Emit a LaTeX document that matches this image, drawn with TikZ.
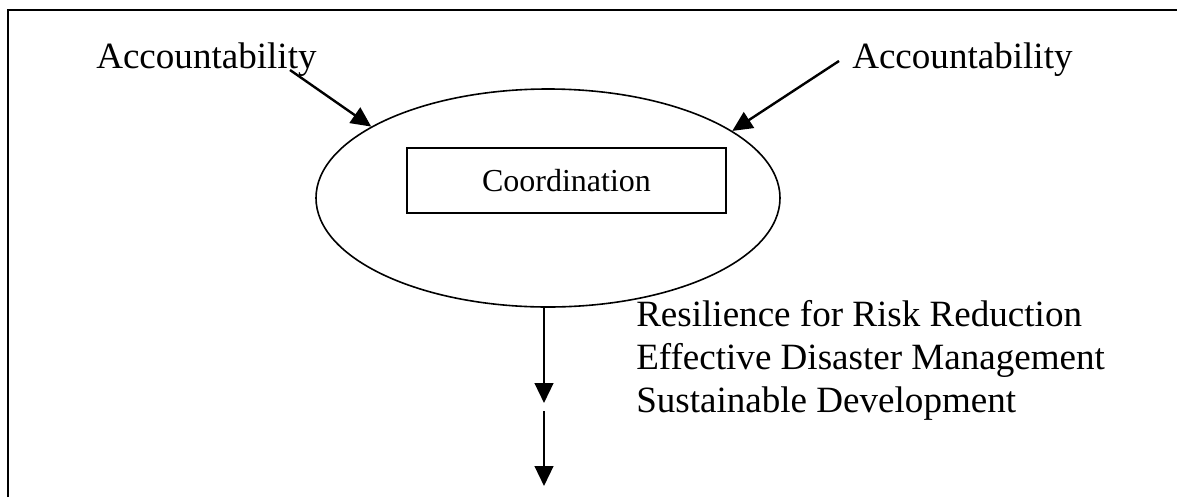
\documentclass[tikz,border=0pt]{standalone}
\usepackage{fontspec}
\setmainfont{Liberation Serif}
\usetikzlibrary{arrows.meta,shapes.geometric}
\tikzset{
  bigtext/.style={font=\fontsize{27.8pt}{32.25pt}\selectfont, inner sep=0pt, anchor=base west},
  arr/.style={line width=1.8pt, -{Triangle[length=15pt,width=14pt]}},
  shapeline/.style={draw, line width=1.2pt},
}
\begin{document}
\begin{tikzpicture}[x=0.75pt,y=-0.75pt]
\useasboundingbox (0,0) rectangle (1177,497);
% frame
\draw[line width=2pt] (8,497) -- (8,10) -- (1177,10);
% ellipse and box
\node[shapeline, ellipse, inner sep=0pt, minimum width=348pt, minimum height=163.5pt] (ell) at (548,198) {};
\node[shapeline, rectangle, inner sep=0pt, minimum width=239.25pt, minimum height=48.75pt,
      font=\fontsize{24pt}{28pt}\selectfont] (box) at (566.5,180.5) {Coordination};
% labels
\node[bigtext] (accL) at (96,68) {Accountability};
\node[bigtext] (accR) at (852,68) {Accountability};
\node[bigtext] (r1) at (636,326) {Resilience for Risk Reduction};
\node[bigtext] (r2) at (636,369) {Effective Disaster Management};
\node[bigtext] (r3) at (636,412) {Sustainable Development};
% connectors
\coordinate (sL) at (290,70);
\coordinate (sR) at (839,61);
\coordinate (b1) at (544,403);
\coordinate (b2) at (544,411);
\coordinate (b3) at (544,486);
\draw[arr] (sL) -- (ell.158);
\draw[arr] (sR) -- (ell.20);
\draw[arr] (ell.south -| b1) -- (b1);
\draw[arr] (b2) -- (b3);
\end{tikzpicture}
\end{document}
